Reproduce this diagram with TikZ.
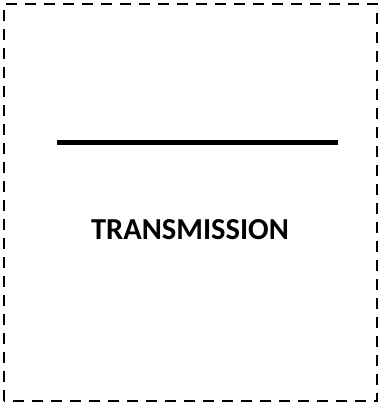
\documentclass[tikz,border=0pt]{standalone}
\usepackage{fontspec}
\setmainfont{Carlito}
\tikzset{
  frame/.style={line width=2.8pt, dash pattern=on 11pt off 8pt},
  bar/.style={line width=5.5pt},
  label/.style={font=\fontsize{30.5}{33}\selectfont\bfseries, inner sep=0pt, anchor=base}
}
\begin{document}
\begin{tikzpicture}[x=1pt, y=1pt]
    % fixed page size
    \useasboundingbox (0,0) rectangle (379,403);
    % dashed frame
    \draw[frame] (4,2) rectangle (377,399);
    % thick line
    \coordinate (barL) at (57,260.3);
    \coordinate (barR) at (338,260.3);
    \draw[bar] (barL) -- (barR);
    \node[label] (txt) at (190,163) {TRANSMISSION};
  \end{tikzpicture}
\end{document}
